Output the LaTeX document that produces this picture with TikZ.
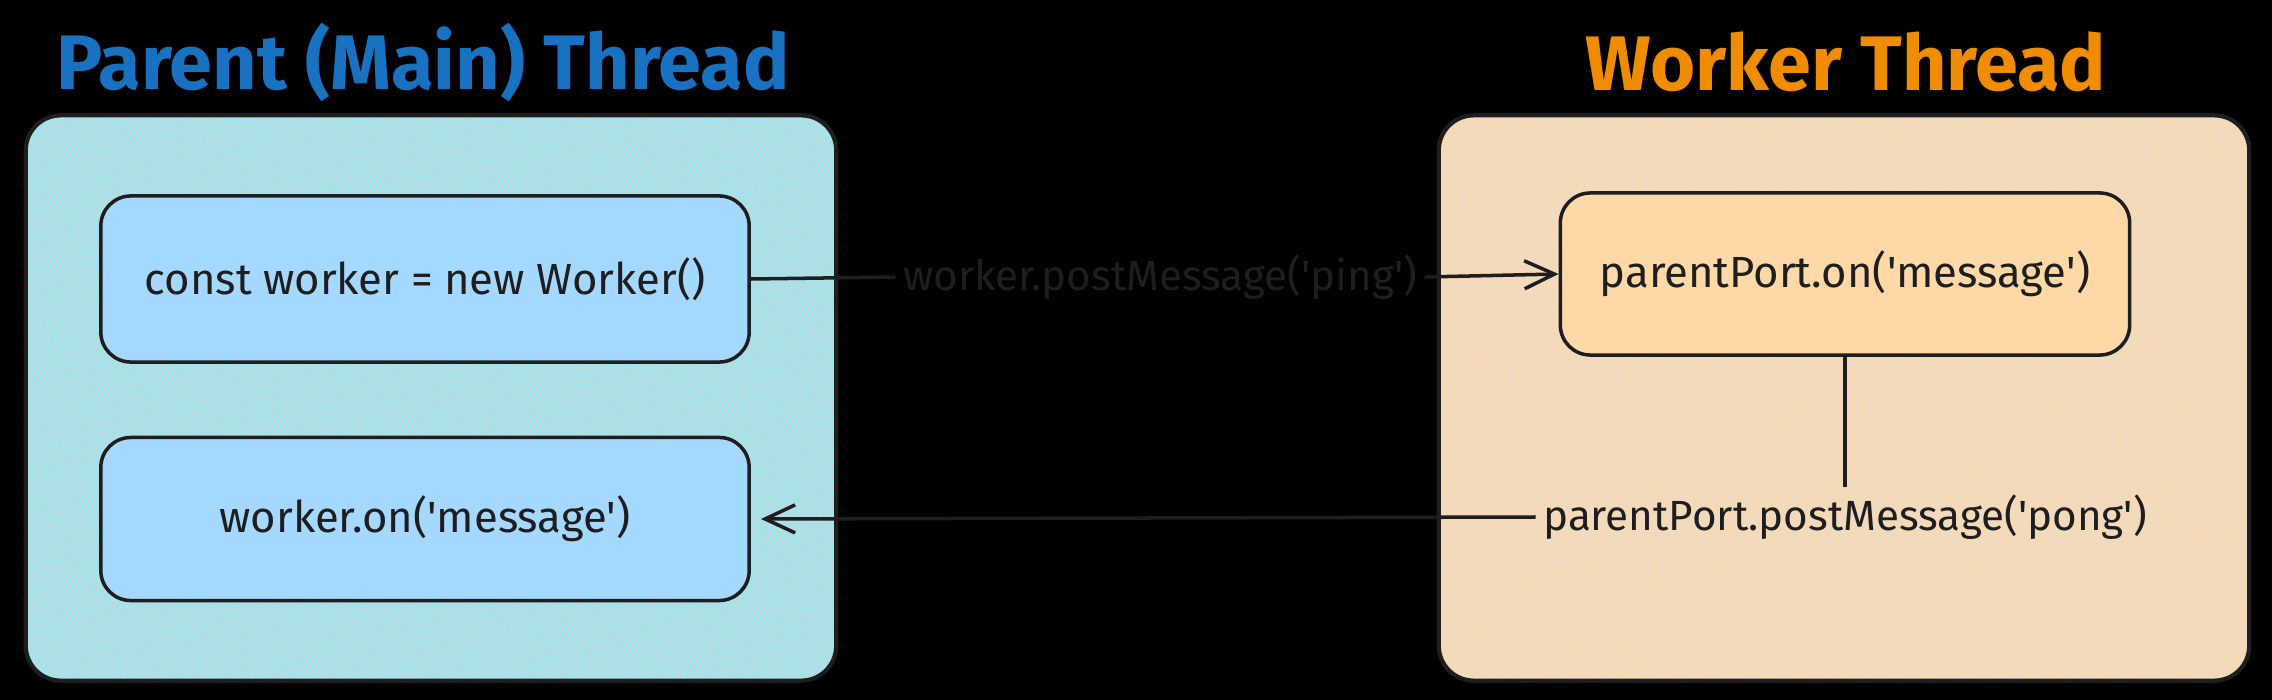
\documentclass[tikz,border=0pt]{standalone}
\usepackage{fontspec}
\setmainfont{Fira Sans}
\usetikzlibrary{arrows.meta,patterns.meta}
\definecolor{inkdark}{HTML}{1E1E1E}
\definecolor{mainblue}{HTML}{1971C2}
\definecolor{workerorange}{HTML}{F08C00}
\definecolor{cyanhatch}{HTML}{99E9F2}
\definecolor{peachhatch}{HTML}{FFD8A8}
\definecolor{bluebox}{HTML}{A5D8FF}
\definecolor{greygap}{HTML}{D0D0D0}
\definecolor{greygaplight}{HTML}{DEDEDE}
\newcommand{\tick}{\textquotesingle}

\begin{document}
\begin{tikzpicture}
[x=0.01cm,y=-0.01cm,%
  threaddecorate/.style={shape=rectangle,rounded corners=0.35cm,draw=inkdark,line width=1.2pt,minimum width=8.1cm,minimum height=5.65cm},%
  hatchdecorate/.style 2 args={preaction={fill=#1},pattern color=#2,pattern={Lines[angle=60,distance=1.5pt,line width=0.95pt]}},%
  boxdecorate/.style={shape=rectangle,rounded corners=0.3cm,draw=inkdark,line width=1pt,text=inkdark,font=\fontsize{12.4}{14}\selectfont},%
  titledecorate/.style={font=\fontsize{22}{26}\selectfont\bfseries},%
  labeldecorate/.style={text=inkdark,font=\fontsize{12}{14}\selectfont,inner sep=2pt},%
  linedecorate/.style={-,draw=inkdark,line width=1pt},%
  arrowdecorate/.style={linedecorate,-{Straight Barb[length=0.3cm,width=0.28cm]}}]
%% canvas
\fill[black] (0,0) rectangle (2272,700);
\useasboundingbox (0,0) rectangle (2272,700);
%% thread areas
\node (parent) at (431,398) [threaddecorate,hatchdecorate={greygap}{cyanhatch}] {};
\node (worker) at (1844,398) [threaddecorate,hatchdecorate={greygaplight}{peachhatch}] {};
\node (parenttitle) at (423,62) [titledecorate,text=mainblue] {Parent (Main) Thread};
\node (workertitle) at (1846,62) [titledecorate,text=workerorange] {Worker Thread};
%% code boxes
\foreach \nodename/\x/\y/\w/\h/\colour/\content in {
  create/425/279/6.48/1.66/bluebox/{const worker = new Worker()},
  listen/425/519/6.48/1.63/bluebox/{worker.on(\tick message\tick)},
  portlisten/1845/274/5.69/1.62/peachhatch/{parentPort.on(\tick message\tick)}} {
  \node (\nodename) at (\x,\y) [boxdecorate,fill=\colour,minimum width=\w cm,minimum height=\h cm] {\content};
}
%% messages
\node (ping) at (1160,277) [labeldecorate] {worker.postMessage(\tick ping\tick)};
\node (pong) at (1845,517) [labeldecorate] {parentPort.postMessage(\tick pong\tick)};
\path
  (create.east) edge[linedecorate] (ping.west)
  (ping.east) edge[arrowdecorate] (portlisten.west)
  (portlisten.south) edge[linedecorate] (pong.north)
  (pong.west) edge[arrowdecorate,shorten >=0.1cm] (listen.east);
\end{tikzpicture}
\end{document}
